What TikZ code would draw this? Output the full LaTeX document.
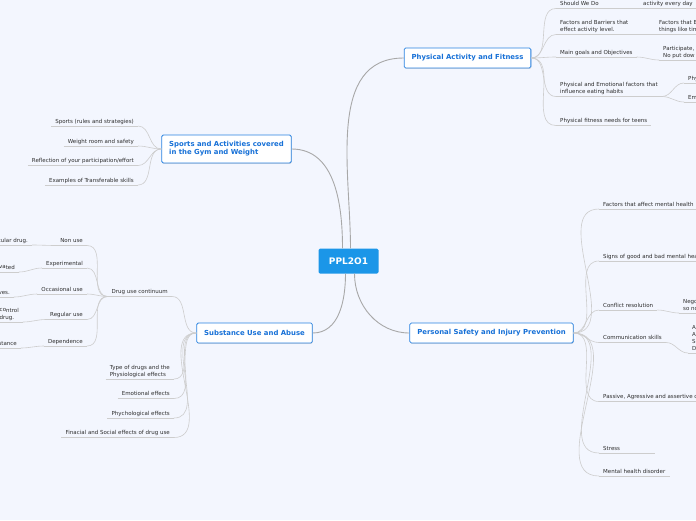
\documentclass[tikz,border=0pt]{standalone}
\usepackage{fontspec}
\setsansfont{DejaVu Sans}
\usetikzlibrary{shadows}

\definecolor{mapbg}{RGB}{243,246,254}
\definecolor{hubblue}{RGB}{27,150,232}
\definecolor{topicblue}{RGB}{40,130,225}
\definecolor{topictext}{RGB}{22,112,215}
\definecolor{leaftext}{RGB}{45,45,45}
\definecolor{mainlink}{RGB}{168,168,168}
\definecolor{leaflink}{RGB}{205,205,205}

\begin{document}
\begin{tikzpicture}[
        x=1pt, y=-1pt,
        hub/.style={fill=hubblue, text=white, rounded corners=1.5pt,
            font=\sffamily\bfseries\fontsize{9}{10}\selectfont,
            minimum width=60pt, minimum height=25pt},
        topic/.style={draw=topicblue, fill=white, line width=0.8pt,
            rounded corners=1.5pt, text=topictext, align=left,
            font=\sffamily\bfseries\fontsize{6.9}{8}\selectfont,
            minimum height=20pt, inner xsep=7.5pt,
            drop shadow={shadow xshift=0.6pt, shadow yshift=-0.8pt, opacity=0.25}},
        leaf/.style={text=leaftext, inner xsep=4pt, inner ysep=1.5pt, align=left,
            text depth=1.3pt, font=\sffamily\fontsize{5.5}{7}\selectfont},
        leafR/.style={leaf, anchor=south west},
        leafL/.style={leaf, anchor=south east},
        mainline/.style={draw=mainlink, line width=0.9pt},
        leafline/.style={draw=leaflink, line width=0.6pt},
    ]
    \useasboundingbox (0,0) rectangle (696,520);
    \fill[mapbg] (0,0) rectangle (696,520);
    \clip (0,0) rectangle (696,520);

    % hub and topics
    \node[hub] (ppl) at (348.5,261) {PPL2O1};
    \node[topic] (physical) at (467.5,58) {Physical Activity and Fitness};
    \node[topic, minimum height=28pt] (sports) at (226.5,149) {Sports and Activities covered\\in the Gym and Weight};
    \node[topic] (substance) at (254.5,333) {Substance Use and Abuse};
    \node[topic] (personal) at (491.5,333) {Personal Safety and Injury Prevention};

    % physical activity
    \node[leafR] (should) at (556,8.5) {Should We Do};
    \node[leafR] (barriers) at (556,34.5) {Factors and Barriers that\\effect activity level.};
    \node[leafR] (goals) at (556,57) {Main goals and Objectives};
    \node[leafR] (eating) at (556,96.5) {Physical and Emotional factors that\\influence eating habits};
    \node[leafR] (fitneeds) at (556,125.5) {Physical fitness needs for teens};
    \node[leafR] (everyday) at (639,8.5) {activity every day};
    \node[leafR] (barriersub) at (655,34.5) {Factors that B\\things like tim};
    \node[leafR] (goalsub) at (659,60) {Participate, T\\No put dow};
    \node[leafR] (physub) at (684,83) {Phy};
    \node[leafR] (emosub) at (684,102) {Em};

    % sports
    \node[leafL] (rules) at (138,126) {Sports (rules and strategies)};
    \node[leafL] (weightroom) at (138,146) {Weight room and safety};
    \node[leafL] (reflection) at (138,165.5) {Reflection of your participation/effort};
    \node[leafL] (transfer) at (138,185) {Examples of Transferable skills};

    % substance use
    \node[leafL] (continuum) at (172,296.5) {Drug use continuum};
    \node[leafL] (drugtypes) at (174,379) {Type of drugs and the\\Physiological effects};
    \node[leafL] (emotional) at (174,398.5) {Emotional effects};
    \node[leafL] (psych) at (174,418) {Phychological effects};
    \node[leafL] (financial) at (174,437.5) {Finacial and Social effects of drug use};

    \node[leafL] (nonuse) at (87,245.5) {Non use};
    \node[leafL] (experimental) at (87,268) {Experimental};
    \node[leafL] (occasional) at (87,294) {Occasional use};
    \node[leafL] (regular) at (87,319.5) {Regular use};
    \node[leafL] (dependence) at (87,346) {Dependence};

    \node[leafL] (nonusedef) at (32,245) {cular drug.};
    \node[leafL] (expdef) at (19,272) {\raisebox{1pt}{va}ted};
    \node[leafL] (occdef) at (14,297) {ves.};
    \node[leafL] (regdef) at (23,322) {\raisebox{1pt}{co}ntrol\\drug.};
    \node[leafL] (depdef) at (21,348) {stance};

    % personal safety
    \node[leafR] (mhfactors) at (599,209) {Factors that affect mental health};
    \node[leafR] (mhsigns) at (599,261) {Signs of good and bad mental hea};
    \node[leafR] (conflict) at (599,310) {Conflict resolution};
    \node[leafR] (communication) at (599,342.5) {Communication skills};
    \node[leafR] (passive) at (599,401.5) {Passive, Agressive and assertive c};
    \node[leafR, text width=48pt] (stress) at (599,453) {Stress};
    \node[leafR] (disorder) at (599,476) {Mental health disorder};
    \node[leafR] (conflictsub) at (679,313) {Nego\\so no};
    \node[leafR] (commsub) at (688,353) {A\\A\\S\\D};

    % hub links
    \draw[mainline] ([xshift=2pt]ppl.north) to[out=90, in=180] (physical.west);
    \draw[mainline] ([xshift=-6pt]ppl.north) to[out=90, in=0] (sports.east);
    \draw[mainline] ([xshift=-3pt]ppl.south) to[out=-90, in=0] (substance.east);
    \draw[mainline] ([xshift=6pt]ppl.south) to[out=-90, in=180] (personal.west);

    % underlines
    \foreach \n in {should, barriers, goals, eating, fitneeds, everyday, barriersub,
            goalsub, physub, emosub, rules, weightroom, reflection, transfer,
            continuum, drugtypes, emotional, psych, financial, nonuse, experimental,
            occasional, regular, dependence, nonusedef, expdef, occdef, regdef, depdef,
            mhfactors, mhsigns, conflict, communication, passive, stress, disorder,
            conflictsub, commsub}
        \draw[leafline] (\n.south west) -- (\n.south east);

    % branches
    \foreach \n in {should, barriers, goals, eating, fitneeds}
        \draw[leafline] (physical.east) to[out=0, in=180] (\n.south west);
    \foreach \a/\b in {should/everyday, barriers/barriersub, goals/goalsub,
            eating/physub, eating/emosub, conflict/conflictsub, communication/commsub}
        \draw[leafline] (\a.south east) to[out=0, in=180] (\b.south west);
    \foreach \n in {rules, weightroom, reflection, transfer}
        \draw[leafline] (sports.west) to[out=180, in=0] (\n.south east);
    \foreach \n in {continuum, drugtypes, emotional, psych, financial}
        \draw[leafline] (substance.west) to[out=180, in=0] (\n.south east);
    \foreach \n in {nonuse, experimental, occasional, regular, dependence}
        \draw[leafline] (continuum.south west) to[out=180, in=0] (\n.south east);
    \foreach \a/\b in {nonusedef/nonuse, expdef/experimental, occdef/occasional,
            regdef/regular, depdef/dependence}
        \draw[leafline] (\a.south east) to[out=0, in=180] (\b.south west);
    \foreach \n in {mhfactors, mhsigns, conflict, communication, passive, stress, disorder}
        \draw[leafline] (personal.east) to[out=0, in=180] (\n.south west);
\end{tikzpicture}
\end{document}
